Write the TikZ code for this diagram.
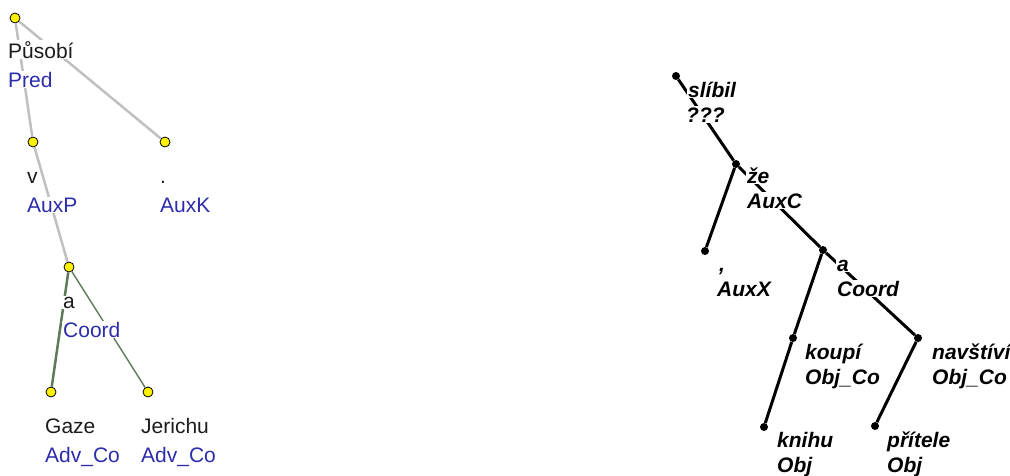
\documentclass[tikz,border=0pt]{standalone}
\usepackage{fontspec}
\setmainfont{Liberation Sans}
\usepackage{tikz}
\usepackage{xcolor}

\definecolor{wordc}{RGB}{28,28,28}
\definecolor{funcc}{RGB}{44,44,172}
\definecolor{edgegray}{RGB}{192,192,192}
\definecolor{edgegreen}{RGB}{95,122,88}

\tikzset{
  leaf/.style={circle,draw=black,fill=yellow,line width=0.8pt,inner sep=0pt,minimum size=10pt},
  dot/.style={circle,fill=black,inner sep=0pt,minimum size=8pt},
  word/.style={anchor=base west,inner sep=1pt,fill=white,text=wordc,font=\fontsize{21}{21}\selectfont},
  func/.style={word,text=funcc},
  iword/.style={anchor=base west,inner sep=1pt,fill=white,text=black,font=\fontsize{21}{21}\selectfont\bfseries\itshape},
  grayedge/.style={draw=edgegray,line width=2.5pt},
  greenedge/.style={draw=edgegreen,line width=2.5pt},
  thinedge/.style={draw=edgegreen,line width=1.4pt},
  blackedge/.style={draw=black,line width=3pt}
}

\begin{document}
\begin{tikzpicture}[x=1pt,y=-1pt]
        \useasboundingbox (0,0) rectangle (1010,475);

        % Left tree: nodes
        \node[leaf] (pusobi) at (15,18) {};
        \node[leaf] (auxp) at (33,142) {};
        \node[leaf] (auxk) at (165,142) {};
        \node[leaf] (coordL) at (69,267) {};
        \node[leaf] (gaze) at (51,392) {};
        \node[leaf] (jerichu) at (148,392) {};

        % Left tree: edges
        \draw[grayedge] (pusobi) -- (auxp);
        \draw[grayedge] (pusobi) -- (auxk);
        \draw[grayedge] (auxp) -- (coordL);
        \draw[greenedge] (coordL) -- (gaze);
        \draw[thinedge] (coordL) -- (jerichu);

        % Left tree: labels
        \node[word] (pusobi-w) at (7,58) {Působí};
        \node[func] (pusobi-f) at (7,87) {Pred};
        \node[word] (auxp-w) at (26,183) {v};
        \node[func] (auxp-f) at (26,212) {AuxP};
        \node[word] (auxk-w) at (159,183) {.};
        \node[func] (auxk-f) at (159,212) {AuxK};
        \node[word] (coordL-w) at (62,308) {a};
        \node[func] (coordL-f) at (62,337) {Coord};
        \node[word] (gaze-w) at (44,433) {Gaze};
        \node[func] (gaze-f) at (44,462) {Adv\_Co};
        \node[word] (jerichu-w) at (140,433) {Jerichu};
        \node[func] (jerichu-f) at (140,462) {Adv\_Co};

        % Right tree: nodes
        \node[dot] (slibil) at (676,76) {};
        \node[dot] (ze) at (736,164) {};
        \node[dot] (auxx) at (705,251) {};
        \node[dot] (coordR) at (823,250) {};
        \node[dot] (koupi) at (793,338) {};
        \node[dot] (navstivi) at (918,338) {};
        \node[dot] (knihu) at (764,427) {};
        \node[dot] (pritele) at (875,426) {};

        % Right tree: edges
        \draw[blackedge] (slibil) -- (ze);
        \draw[blackedge] (ze) -- (auxx);
        \draw[blackedge] (ze) -- (coordR);
        \draw[blackedge] (coordR) -- (koupi);
        \draw[blackedge] (coordR) -- (navstivi);
        \draw[blackedge] (koupi) -- (knihu);
        \draw[blackedge] (navstivi) -- (pritele);

        % Right tree: labels
        \node[iword] (slibil-w) at (687,97) {slíbil};
        \node[iword] (slibil-f) at (685,122) {???};
        \node[iword] (ze-w) at (746,183) {že};
        \node[iword] (ze-f) at (746,208) {AuxC};
        \node[iword] (auxx-w) at (718,271) {,};
        \node[iword] (auxx-f) at (716,296) {AuxX};
        \node[iword] (coordR-w) at (836,271) {a};
        \node[iword] (coordR-f) at (836,296) {Coord};
        \node[iword] (koupi-w) at (804,359) {koupí};
        \node[iword] (koupi-f) at (804,384) {Obj\_Co};
        \node[iword] (navstivi-w) at (931,359) {navštíví};
        \node[iword] (navstivi-f) at (931,384) {Obj\_Co};
        \node[iword] (knihu-w) at (776,447) {knihu};
        \node[iword] (knihu-f) at (776,472) {Obj};
        \node[iword] (pritele-w) at (886,447) {přítele};
        \node[iword] (pritele-f) at (886,472) {Obj};
    \end{tikzpicture}
\end{document}
